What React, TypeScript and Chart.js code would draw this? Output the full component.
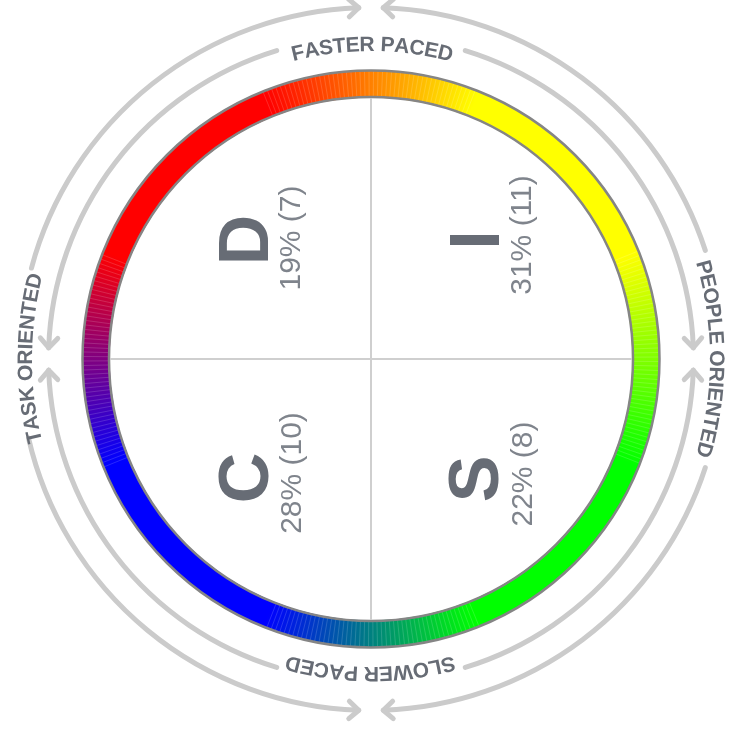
import React, { useEffect, useRef } from "react";
import { Chart, registerables } from "chart.js";

Chart.register(...registerables);

// Quadrants in clockwise order starting at the top (12 o'clock)
const quadrants = ["I", "S", "C", "D"];
const percents = [31, 22, 28, 19];
const counts = [11, 8, 10, 7];
const quadrantShare = [1, 1, 1, 1];

// Axis captions, clockwise from the top
const axisLabels = ["FASTER PACED", "PEOPLE ORIENTED", "SLOWER PACED", "TASK ORIENTED"];

// Colour wheel stops (degrees clockwise from top)
const ringStopAngles = [0, 22, 68, 90, 112, 158, 180, 202, 248, 270, 292, 338, 360];
const ringStopColors = [
  "#ff8000", "#ffff00", "#ffff00", "#80ff00", "#00ff00", "#00ff00",
  "#008080", "#0000ff", "#0000ff", "#800080", "#ff0000", "#ff0000", "#ff8000",
];
// Blended zones (centre angle, half width) where the ring shows fine stripes
const blendCentres = [0, 90, 180, 270];
const blendHalfWidth = 22;

const FONT = '"Liberation Sans", Arial, Helvetica, sans-serif';
const TEXT_DARK = "#676c75";
const TEXT_LIGHT = "#7f848c";
const ARROW = "#cbcbcb";

// Layout offsets from the wheel centre for each quadrant's text (screen px)
const labelLayout = [
  { lx: 128, ly: -119, px: 160, py: -124 },
  { lx: 127, ly: 120, px: 161, py: 115 },
  { lx: -103, ly: 119, px: -70, py: 114 },
  { lx: -103, ly: -119, px: -71, py: -121 },
];

let gradCache: { key: string; grad: CanvasGradient } | null = null;

function ringGradient(chart: any): any {
  const area = chart.chartArea;
  if (!area) return "#ff0000";
  const cx = (area.left + area.right) / 2;
  const cy = (area.top + area.bottom) / 2;
  const key = cx + "," + cy;
  if (gradCache && gradCache.key === key) return gradCache.grad;
  const ctx = chart.ctx as CanvasRenderingContext2D;
  const g = (ctx as any).createConicGradient(-Math.PI / 2, cx, cy);
  ringStopAngles.forEach((a, i) => g.addColorStop(a / 360, ringStopColors[i]));
  gradCache = { key, grad: g };
  return g;
}

const rad = (d: number) => (d * Math.PI) / 180;

const discPlugin = {
  id: "discDecor",
  afterDatasetsDraw(chart: any) {
    const meta = chart.getDatasetMeta(0);
    const arcEl = meta.data[0] as any;
    if (!arcEl) return;
    const cx = arcEl.x;
    const cy = arcEl.y;
    const ro = arcEl.outerRadius;
    const ri = arcEl.innerRadius;
    const ctx = chart.ctx as CanvasRenderingContext2D;

    // faint stripes in blended zones
    ctx.save();
    ctx.strokeStyle = "rgba(255,255,255,0.22)";
    ctx.lineWidth = 0.7;
    blendCentres.forEach((c) => {
      for (let d = -blendHalfWidth; d <= blendHalfWidth; d += 0.9) {
        const a = rad(c + d);
        const s = Math.sin(a), co = -Math.cos(a);
        ctx.beginPath();
        ctx.moveTo(cx + ri * s, cy + ri * co);
        ctx.lineTo(cx + ro * s, cy + ro * co);
        ctx.stroke();
      }
    });
    ctx.restore();

    // ring edges
    ctx.save();
    ctx.strokeStyle = "#858585";
    ctx.lineWidth = 2.5;
    ctx.beginPath();
    ctx.arc(cx, cy, ro, 0, Math.PI * 2);
    ctx.stroke();
    ctx.beginPath();
    ctx.arc(cx, cy, ri, 0, Math.PI * 2);
    ctx.stroke();
    ctx.restore();

    // cross lines
    ctx.save();
    ctx.strokeStyle = "#cfcfcf";
    ctx.lineWidth = 2;
    ctx.beginPath();
    ctx.moveTo(cx, cy - ri + 1);
    ctx.lineTo(cx, cy + ri - 1);
    ctx.moveTo(cx - ri + 1, cy);
    ctx.lineTo(cx + ri - 1, cy);
    ctx.stroke();
    ctx.restore();

    // arrows
    const rOut = ro + 63;
    const rIn = ro + 34;
    ctx.save();
    ctx.strokeStyle = ARROW;
    ctx.lineWidth = 5;
    ctx.lineCap = "round";
    ctx.lineJoin = "round";
    const arcCW = (r: number, from: number, to: number) => {
      ctx.beginPath();
      ctx.arc(cx, cy, r, rad(from - 90), rad(to - 90), false);
      ctx.stroke();
    };
    const head = (r: number, tipDeg: number, dir: number) => {
      const a = rad(tipDeg);
      const px = cx + r * Math.sin(a);
      const py = cy - r * Math.cos(a);
      const dx = dir * Math.cos(a);
      const dy = dir * Math.sin(a);
      const L = 13;
      ctx.beginPath();
      [-1, 1].forEach((sg) => {
        const t = rad(42) * sg;
        const bx = -dx * Math.cos(t) + dy * Math.sin(t);
        const by = -dx * Math.sin(t) - dy * Math.cos(t);
        ctx.moveTo(px, py);
        ctx.lineTo(px + L * bx, py + L * by);
      });
      ctx.stroke();
    };
    // outer: arrows toward top and bottom
    arcCW(rOut, 285, 358); head(rOut, 358, 1);
    arcCW(rOut, 2, 72); head(rOut, 2, -1);
    arcCW(rOut, 108, 178); head(rOut, 178, 1);
    arcCW(rOut, 182, 257); head(rOut, 182, -1);
    // inner: arrows toward left and right
    arcCW(rIn, 272, 343); head(rIn, 272, -1);
    arcCW(rIn, 17, 88); head(rIn, 88, 1);
    arcCW(rIn, 92, 163); head(rIn, 92, -1);
    arcCW(rIn, 197, 268); head(rIn, 268, 1);
    ctx.restore();

    // curved axis captions
    const font = 21;
    const capH = font * 0.716;
    ctx.save();
    ctx.fillStyle = TEXT_DARK;
    ctx.font = `bold ${font}px ${FONT}`;
    ctx.textAlign = "center";
    ctx.textBaseline = "alphabetic";
    axisLabels.forEach((label, i) => {
      const centreDeg = i * 90;
      const r = i % 2 === 0 ? ro + 27 : ro + 58;
      const total = ctx.measureText(label).width;
      let acc = 0;
      const start = rad(centreDeg) - total / 2 / r;
      for (const ch of label) {
        const w = ctx.measureText(ch).width;
        const a = start + (acc + w / 2) / r;
        acc += w;
        ctx.save();
        ctx.translate(cx + r * Math.sin(a), cy - r * Math.cos(a));
        ctx.rotate(a);
        ctx.fillText(ch, 0, capH / 2);
        ctx.restore();
      }
    });
    ctx.restore();

    // quadrant labels (rotated, reading bottom to top)
    quadrants.forEach((q, i) => {
      const lay = labelLayout[i];
      ctx.save();
      ctx.translate(cx + lay.lx, cy + lay.ly);
      ctx.rotate(-Math.PI / 2);
      ctx.textAlign = "center";
      ctx.textBaseline = "alphabetic";
      ctx.fillStyle = TEXT_DARK;
      ctx.font = `bold 70px ${FONT}`;
      ctx.fillText(q, 0, 0);
      ctx.restore();

      ctx.save();
      ctx.translate(cx + lay.px, cy + lay.py);
      ctx.rotate(-Math.PI / 2);
      ctx.textAlign = "center";
      ctx.textBaseline = "alphabetic";
      ctx.fillStyle = TEXT_LIGHT;
      ctx.font = `30px ${FONT}`;
      ctx.fillText(`${percents[i]}% (${counts[i]})`, 0, 0);
      ctx.restore();
    });
  },
};

export default function App() {
  const canvasRef = useRef<HTMLCanvasElement | null>(null);

  useEffect(() => {
    document.body.style.margin = "0";
    const canvas = canvasRef.current;
    if (!canvas) return;
    gradCache = null;
    const chart = new Chart(canvas, {
      type: "doughnut",
      data: {
        labels: quadrants,
        datasets: [
          {
            data: quadrantShare,
            backgroundColor: (c: any) => ringGradient(c.chart),
            borderColor: (c: any) => ringGradient(c.chart),
            borderWidth: 1,
            offset: 0,
            hoverOffset: 0,
            spacing: 0,
          } as any,
        ],
      },
      options: {
        responsive: false,
        animation: false,
        events: [],
        cutout: 262,
        rotation: 0,
        layout: { padding: { left: 82, right: 71, top: 70, bottom: 89 } },
        plugins: {
          legend: { display: false },
          tooltip: { enabled: false },
        },
      } as any,
      plugins: [discPlugin],
    });
    return () => chart.destroy();
  }, []);

  return (
    <div style={{ width: 731, height: 737, position: "relative" }}>
      <canvas ref={canvasRef} width={731} height={737} style={{ display: "block" }} />
    </div>
  );
}
